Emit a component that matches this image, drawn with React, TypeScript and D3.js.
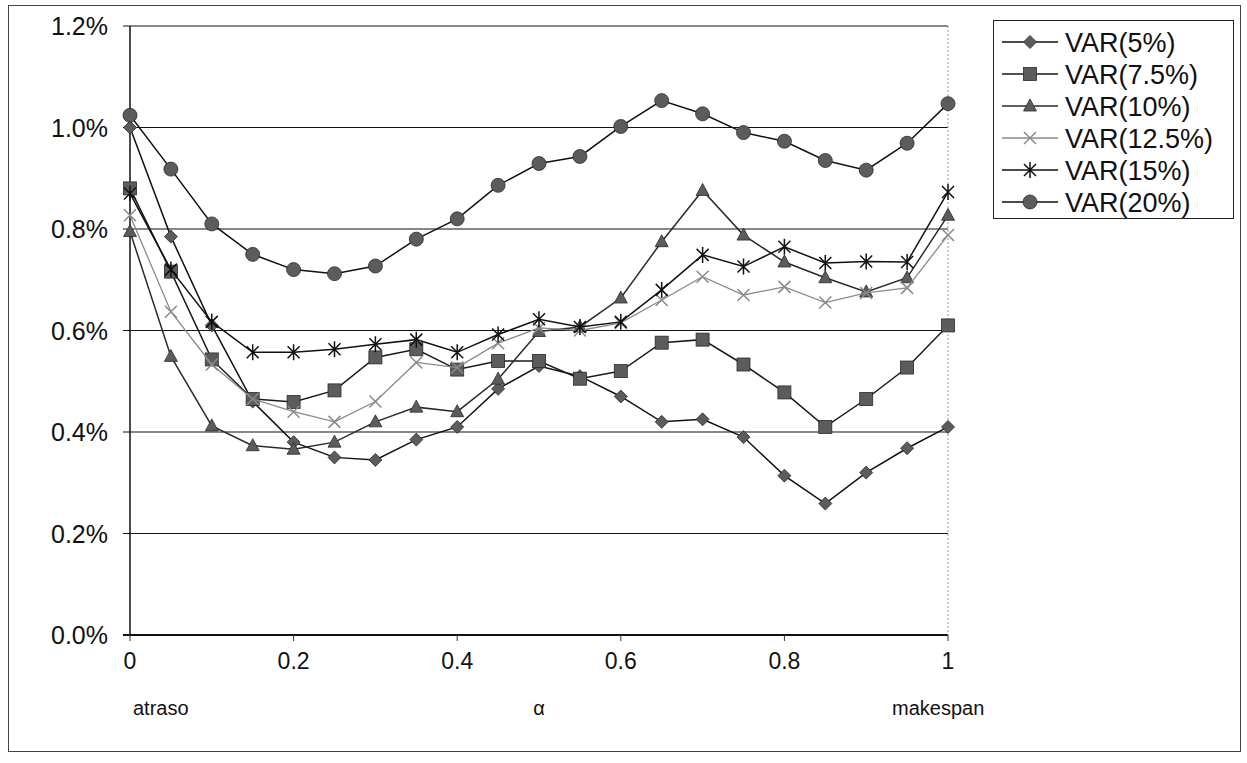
import { useEffect } from 'react'
import * as d3 from 'd3'

// alpha values (x axis)
const alphas = [0, 0.05, 0.1, 0.15, 0.2, 0.25, 0.3, 0.35, 0.4, 0.45, 0.5, 0.55, 0.6, 0.65, 0.7, 0.75, 0.8, 0.85, 0.9, 0.95, 1]

// values in %
const var5 = [1.0, 0.785, 0.61, 0.46, 0.38, 0.35, 0.345, 0.385, 0.41, 0.485, 0.53, 0.51, 0.47, 0.42, 0.425, 0.39, 0.314, 0.259, 0.32, 0.368, 0.41]
const var75 = [0.88, 0.716, 0.543, 0.465, 0.459, 0.482, 0.547, 0.563, 0.523, 0.54, 0.54, 0.505, 0.52, 0.576, 0.582, 0.533, 0.478, 0.41, 0.465, 0.527, 0.61]
const var10 = [0.795, 0.549, 0.412, 0.373, 0.366, 0.38, 0.42, 0.449, 0.44, 0.504, 0.598, 0.607, 0.664, 0.775, 0.876, 0.788, 0.735, 0.704, 0.676, 0.704, 0.827]
const var125 = [0.827, 0.637, 0.533, 0.465, 0.44, 0.42, 0.46, 0.537, 0.527, 0.575, 0.605, 0.6, 0.615, 0.66, 0.706, 0.67, 0.686, 0.655, 0.674, 0.684, 0.788]
const var15 = [0.87, 0.72, 0.617, 0.557, 0.557, 0.563, 0.573, 0.582, 0.557, 0.592, 0.622, 0.607, 0.617, 0.68, 0.749, 0.726, 0.765, 0.733, 0.736, 0.735, 0.873]
const var20 = [1.024, 0.918, 0.81, 0.75, 0.72, 0.712, 0.727, 0.78, 0.82, 0.886, 0.929, 0.943, 1.002, 1.053, 1.027, 0.99, 0.973, 0.935, 0.916, 0.969, 1.047]

const seriesNames = ['VAR(5%)', 'VAR(7.5%)', 'VAR(10%)', 'VAR(12.5%)', 'VAR(15%)', 'VAR(20%)']
const seriesValues = [var5, var75, var10, var125, var15, var20]
const seriesMarkers = ['diamond', 'square', 'triangle', 'x', 'asterisk', 'circle']
const seriesLineColors = ['#111', '#1a1a1a', '#2a2a2a', '#8a8a8a', '#111', '#111']

const yTicks = [0, 0.2, 0.4, 0.6, 0.8, 1.0, 1.2]
const xTicks = [0, 0.2, 0.4, 0.6, 0.8, 1]

const FONT = "'Liberation Sans', Arial, sans-serif"
const MARK_FILL = '#5c5c5c'
const MARK_STROKE = '#2a2a2a'

function Marker({ kind, x, y }: { kind: string; x: number; y: number }) {
  if (kind === 'circle') return <circle cx={x} cy={y} r={7} fill={MARK_FILL} stroke={MARK_STROKE} strokeWidth={0.8} />
  if (kind === 'square') return <rect x={x - 6.5} y={y - 6.5} width={13} height={13} fill={MARK_FILL} stroke={MARK_STROKE} strokeWidth={0.8} />
  if (kind === 'diamond') return <path d={`M${x},${y - 6.5}L${x + 6.5},${y}L${x},${y + 6.5}L${x - 6.5},${y}Z`} fill={MARK_FILL} stroke={MARK_STROKE} strokeWidth={0.8} />
  if (kind === 'triangle') return <path d={`M${x},${y - 7}L${x + 6.5},${y + 5}L${x - 6.5},${y + 5}Z`} fill={MARK_FILL} stroke={MARK_STROKE} strokeWidth={0.8} />
  if (kind === 'x') return <path d={`M${x - 6},${y - 6}L${x + 6},${y + 6}M${x - 6},${y + 6}L${x + 6},${y - 6}`} stroke="#8a8a8a" strokeWidth={1.5} fill="none" />
  return <path d={`M${x - 6},${y - 6}L${x + 6},${y + 6}M${x - 6},${y + 6}L${x + 6},${y - 6}M${x},${y - 8}L${x},${y + 8}`} stroke="#111" strokeWidth={1.5} fill="none" />
}

export default function App() {
  useEffect(() => {
    document.body.style.margin = '0'
  }, [])

  const width = 1247
  const height = 763
  const x = d3.scaleLinear().domain([0, 1]).range([130, 948])
  const y = d3.scaleLinear().domain([0, 1.2]).range([635, 26])

  const line = d3.line<[number, number]>().x((d) => x(d[0])).y((d) => y(d[1]))

  return (
    <svg width={width} height={height} style={{ display: 'block', background: '#fff', fontFamily: FONT }}>
      {/* outer border */}
      <rect x={8.5} y={5.5} width={1232} height={746} fill="none" stroke="#444" strokeWidth={1} />

      {/* grid lines + y ticks */}
      {yTicks.map((t) => (
        <g key={t}>
          <line x1={123} x2={948} y1={y(t)} y2={y(t)} stroke="#111" strokeWidth={t === 0 ? 2 : 1.2} />
          <text x={108} y={y(t) + 9} textAnchor="end" fontSize={25} fill="#111">{`${t.toFixed(1)}%`}</text>
        </g>
      ))}
      {/* left axis */}
      <line x1={130} x2={130} y1={y(1.2)} y2={y(0)} stroke="#111" strokeWidth={1.5} />
      {/* right plot border */}
      <line x1={948} x2={948} y1={y(1.2)} y2={y(0)} stroke="#999" strokeWidth={1} strokeDasharray="2,2" />

      {/* x ticks */}
      {xTicks.map((t) => (
        <g key={t}>
          <line x1={x(t)} x2={x(t)} y1={y(0)} y2={y(0) + 6} stroke="#333" strokeWidth={1} />
          <text x={x(t)} y={y(0) + 34} textAnchor="middle" fontSize={23} fill="#111">{`${t}`}</text>
        </g>
      ))}
      <text x={133} y={y(0) + 80} fontSize={20} fill="#111">atraso</text>
      <text x={x(0.5)} y={y(0) + 80} fontSize={20} fill="#111" textAnchor="middle">α</text>
      <text x={892} y={y(0) + 80} fontSize={20} fill="#111">makespan</text>

      {/* series */}
      {seriesValues.map((vals, i) => {
        const pts = alphas.map((a, j) => [a, vals[j]] as [number, number])
        return (
          <g key={seriesNames[i]}>
            <path d={line(pts) ?? ''} fill="none" stroke={seriesLineColors[i]} strokeWidth={i === 3 ? 1.3 : 1.5} />
            {pts.map((p, j) => (
              <Marker key={j} kind={seriesMarkers[i]} x={x(p[0])} y={y(p[1])} />
            ))}
          </g>
        )
      })}

      {/* legend */}
      <rect x={993.5} y={20.5} width={240} height={198} fill="#fff" stroke="#222" strokeWidth={1} />
      {seriesNames.map((name, i) => {
        const ly = 42 + i * 32
        return (
          <g key={name}>
            <line x1={1002} x2={1058} y1={ly} y2={ly} stroke={seriesLineColors[i]} strokeWidth={i === 3 ? 1.3 : 1.5} />
            <Marker kind={seriesMarkers[i]} x={1030} y={ly} />
            <text x={1065} y={ly + 10} fontSize={27} fill="#111">{name}</text>
          </g>
        )
      })}
    </svg>
  )
}
